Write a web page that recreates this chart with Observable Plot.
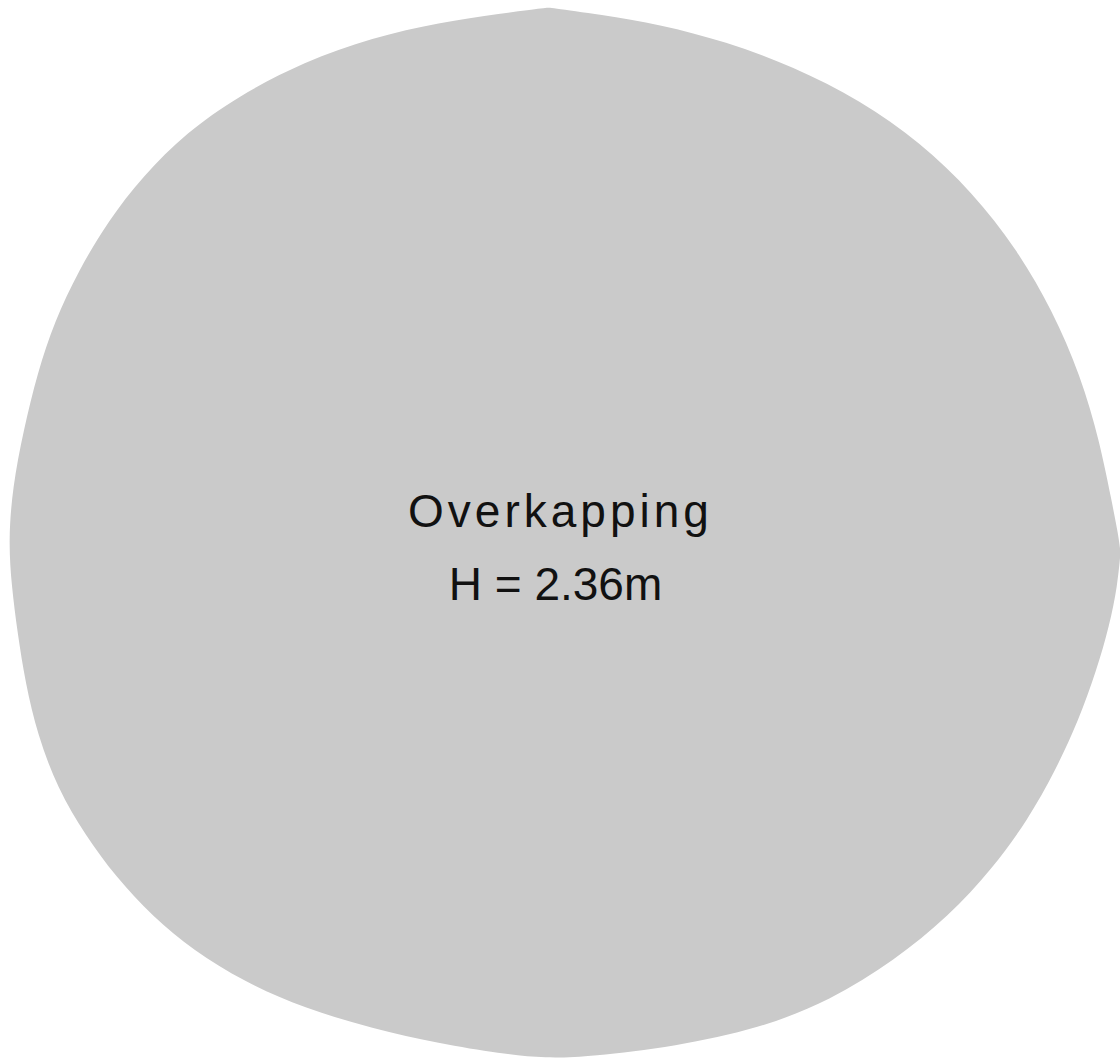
<!DOCTYPE html>
<html><head><meta charset="utf-8">
<script src="https://cdn.jsdelivr.net/npm/d3@7"></script>
<script src="https://cdn.jsdelivr.net/npm/@observablehq/plot@0.6"></script>
<style>html,body{margin:0;padding:0;background:#fff;}</style>
</head><body><div id="chart"></div>
<script>
const outlineX = [548,548,600,660,725,793,860,920,972,1016,1052,1080,1099,1111,1118,1120,1120,1117,1109,1096,1078,1055,1027,992,948,894,830,759,675,590,545,500,439,372,304,243,193,152,115,85,57,37,25,17,11,8,12,23,37,54,78,108,142,186,237,304,372,439,500];
const outlineY = [7,7,14,24,41,66,100,142,192,248,310,375,440,500,535,552,552,585,625,670,720,770,820,868,916,960,1000,1028,1046,1056,1058,1053,1043,1028,1008,981,950,916,876,835,788,734,683,632,585,540,487,430,372,321,270,220,176,132,96,61,37,22,13];
const labels = ["Overkapping", "H = 2.36m"];
const labelX = [560, 555];
const labelY = [512, 585];
const labelSpacing = [4, 0];

const outline = outlineX.map((x, i) => ({x, y: outlineY[i]}));
const textData = labels.map((t, i) => ({t, x: labelX[i], y: labelY[i], ls: labelSpacing[i]}));

const chart = Plot.plot({
  width: 1120, height: 1061,
  margin: 0,
  x: {domain: [0, 1120], axis: null},
  y: {domain: [0, 1061], reverse: true, axis: null},
  style: {background: "#fff", fontFamily: "'Liberation Sans', Arial, sans-serif"},
  marks: [
    Plot.line(outline, {x: "x", y: "y", curve: "basis-closed", fill: "#cacaca", stroke: "none"}),
    Plot.text(textData.filter(d => d.ls > 0), {x: "x", y: "y", text: "t", fontSize: 46, fill: "#111", textAnchor: "middle", fontFamily: "'Liberation Sans', Arial, sans-serif"}),
    Plot.text(textData.filter(d => d.ls === 0), {x: "x", y: "y", text: "t", fontSize: 46, fill: "#111", textAnchor: "middle", fontFamily: "'Liberation Sans', Arial, sans-serif"})
  ]
});
d3.select(chart).selectAll("g[aria-label=text]").filter((d, i) => i === 0).selectAll("text").style("letter-spacing", "4px");
document.getElementById("chart").append(chart);
</script></body></html>
